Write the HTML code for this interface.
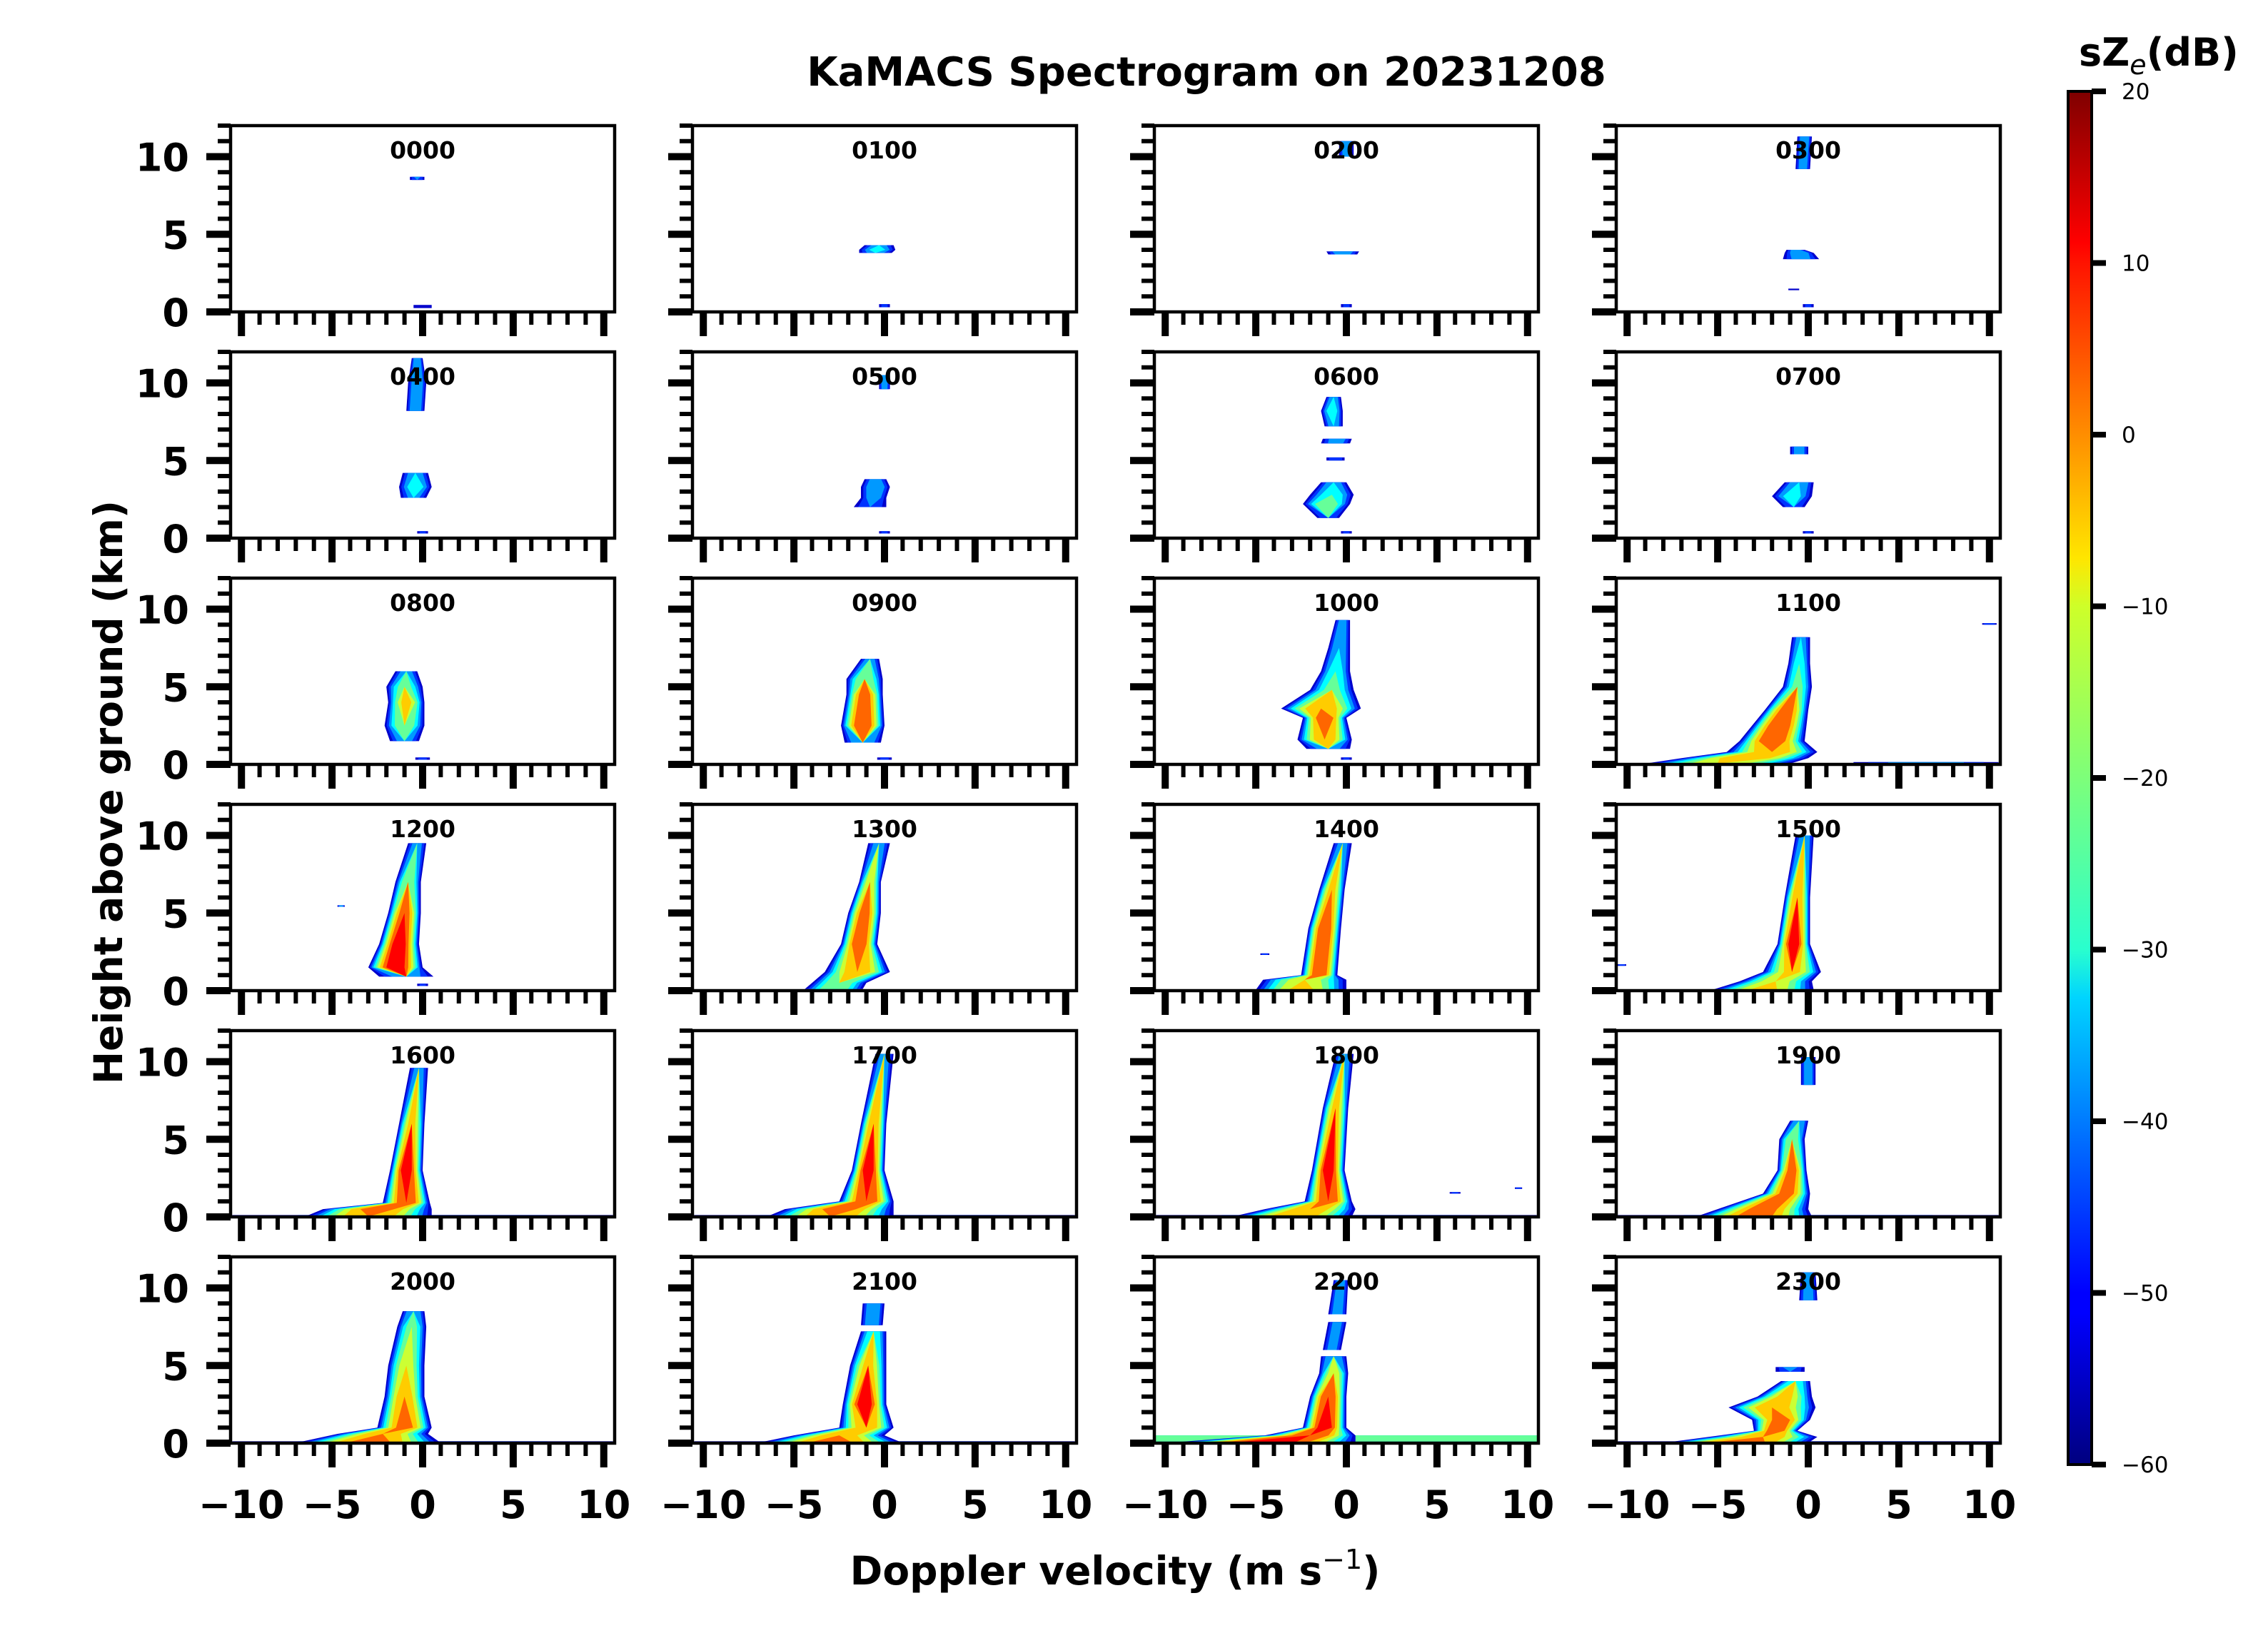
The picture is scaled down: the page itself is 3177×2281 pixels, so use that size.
<!DOCTYPE html>
<html>
<head>
<meta charset="utf-8">
<style>
html,body{margin:0;padding:0;background:#fff;}
svg{display:block;}
text{font-family:"DejaVu Sans","Liberation Sans",sans-serif;}
</style>
</head>
<body>
<svg id="fig" xmlns="http://www.w3.org/2000/svg" width="3177" height="2281" viewBox="0 0 3177 2281">
  <rect x="0" y="0" width="3177" height="2281" fill="#fff"/>
  <text x="1690" y="120" font-size="56" font-weight="bold" text-anchor="middle">KaMACS Spectrogram on 20231208</text>
  <text x="0" y="0" font-size="55" font-weight="bold" text-anchor="middle" transform="translate(171,1110) rotate(-90)">Height above ground (km)</text>
  <text x="1562" y="2220" font-size="55" font-weight="bold" text-anchor="middle">Doppler velocity (m s<tspan dy="-22" font-size="38" font-weight="normal">−1</tspan><tspan dy="22">)</tspan></text>
  <text x="2912" y="92" font-size="54" font-weight="bold">sZ<tspan dy="12" font-size="38" font-weight="normal" font-style="italic">e</tspan><tspan dy="-12">(dB)</tspan></text>
  <defs>
    <linearGradient id="jetg" x1="0" y1="1" x2="0" y2="0">
      <stop offset="0" stop-color="#00007f"/>
      <stop offset="0.11" stop-color="#0000ff"/>
      <stop offset="0.125" stop-color="#0000ff"/>
      <stop offset="0.34" stop-color="#00d4ff"/>
      <stop offset="0.375" stop-color="#29ffce"/>
      <stop offset="0.5" stop-color="#7dff7a"/>
      <stop offset="0.625" stop-color="#ceff29"/>
      <stop offset="0.66" stop-color="#ffe600"/>
      <stop offset="0.875" stop-color="#ff1300"/>
      <stop offset="0.89" stop-color="#ff0000"/>
      <stop offset="1" stop-color="#7f0000"/>
    </linearGradient>
  </defs>
  <g id="panels"></g>
  <g id="cbar"></g>
</svg>
<script>
// ---- data ----
const panelTitles = ["0000","0100","0200","0300","0400","0500","0600","0700","0800","0900","1000","1100","1200","1300","1400","1500","1600","1700","1800","1900","2000","2100","2200","2300"];
const xTicks = [-10,-5,0,5,10];
const yTicks = [0,5,10];
const cbarTicks = [20,10,0,-10,-20,-30,-40,-50,-60];
// each blob: list of nodes [height km, centre velocity m/s, half-width m/s, peak dB]
const blobs0000 = [[[8.5,-0.3,0.4,-45],[8.7,-0.3,0.4,-42]],[[0.25,0,0.5,-52],[0.45,0,0.5,-52]]];
const blobs0100 = [[[3.8,-0.5,0.9,-40],[4.0,-0.4,1.0,-32],[4.3,-0.3,0.8,-40]],[[0.3,0,0.3,-50],[0.5,0,0.3,-50]]];
const blobs0200 = [[[3.7,-0.2,0.8,-40],[3.9,-0.2,0.9,-35]],[[10.0,0,0.4,-40],[11.0,0,0.4,-35]],[[0.3,0,0.3,-50],[0.5,0,0.3,-50]]];
const blobs0300 = [[[9.2,-0.3,0.4,-38],[11.3,-0.2,0.4,-35]],[[3.4,-0.4,1.0,-40],[3.8,-0.5,0.8,-35],[4.0,-0.7,0.5,-40]],[[1.4,-0.8,0.3,-55],[1.5,-0.8,0.3,-55]],[[0.3,0,0.3,-50],[0.5,0,0.3,-50]]];
const blobs0400 = [[[8.2,-0.4,0.5,-35],[10.0,-0.3,0.5,-35],[11.6,-0.3,0.3,-35]],[[2.6,-0.5,0.7,-42],[3.3,-0.4,0.9,-30],[4.2,-0.4,0.7,-38]],[[0.3,0,0.3,-50],[0.45,0,0.3,-50]]];
const blobs0500 = [[[9.6,0,0.3,-40],[10.5,0,0.3,-35]],[[2.0,-0.8,0.9,-45],[2.6,-0.6,0.7,-38],[3.3,-0.5,0.8,-35],[3.8,-0.5,0.6,-40]],[[0.3,0,0.3,-50],[0.45,0,0.3,-50]]];
const blobs0600 = [[[7.2,-0.7,0.5,-38],[8.2,-0.8,0.6,-30],[9.1,-0.7,0.4,-38]],[[6.1,-0.6,0.8,-40],[6.4,-0.5,0.8,-38]],[[5.0,-0.6,0.5,-45],[5.2,-0.6,0.5,-45]],[[1.3,-1.0,0.6,-45],[2.2,-1.1,1.3,-20],[2.8,-0.8,1.2,-30],[3.6,-0.7,0.7,-38]],[[0.3,0,0.3,-50],[0.45,0,0.3,-50]]];
const blobs0700 = [[[5.4,-0.5,0.5,-38],[5.9,-0.5,0.5,-38]],[[2.0,-0.8,0.6,-45],[2.7,-0.9,1.1,-32],[3.6,-0.5,0.8,-35]],[[0.3,0,0.3,-50],[0.45,0,0.3,-50]]];
const blobs0800 = [[[1.5,-1.0,0.8,-40],[2.5,-1.0,1.1,-20],[4.0,-0.9,1.0,-10],[5.0,-1.0,1.0,-25],[6.0,-0.9,0.6,-40]],[[0.3,0,0.4,-50],[0.45,0,0.4,-50]]];
const blobs0900 = [[[1.4,-1.2,1.0,-35],[2.5,-1.2,1.2,5],[4.5,-1.1,1.0,0],[5.5,-1.1,1.0,-20],[6.8,-0.8,0.5,-40]],[[0.3,0,0.4,-50],[0.45,0,0.4,-50]]];
const blobs1000 = [[[1.0,-1.0,1.2,-40],[1.6,-1.2,1.5,-5],[3.0,-1.2,1.2,5],[3.6,-1.4,2.2,-5],[4.8,-0.8,1.2,-25],[6.0,-0.6,0.8,-30],[7.5,-0.4,0.6,-35],[9.3,-0.2,0.4,-40]],[[0.3,0,0.3,-50],[0.45,0,0.3,-50]]];
const blobs1100 = [[[0.05,-5,4,-15],[0.4,-3.5,3.5,-5],[0.8,-2,2.5,-5],[1.5,-2,1.8,5],[2.5,-1.6,1.5,5],[3.5,-1.2,1.2,0],[5.0,-0.6,0.8,-25],[6.5,-0.5,0.6,-30],[8.2,-0.4,0.5,-40]],[[0.0,6.5,4,-40],[0.15,6.5,4,-40]],[[9.0,10,0.4,-45],[9.1,10,0.4,-45]]];
const blobs1200 = [[[0.9,-0.9,1.5,-40],[1.5,-1.5,1.5,10],[3.0,-1.3,1.1,10],[5.0,-1.0,0.9,0],[7.0,-0.8,0.7,-20],[9.5,-0.3,0.5,-40]],[[5.4,-4.5,0.2,-40],[5.5,-4.5,0.2,-40]],[[0.3,0,0.3,-50],[0.45,0,0.3,-50]]];
const blobs1300 = [[[0.1,-2.8,1.6,-20],[0.5,-2.5,1.5,-20],[1.2,-1.5,1.8,-5],[3.0,-1.4,1.0,5],[5.0,-1.1,0.9,0],[7.0,-0.8,0.6,-15],[9.5,-0.3,0.6,-40]]];
const blobs1400 = [[[0.05,-2.5,2.5,-10],[0.7,-2.3,2.3,-15],[1.0,-1.5,1.0,5],[4.0,-1.2,0.9,5],[6.5,-0.8,0.7,-10],[9.5,-0.2,0.5,-40]],[[2.3,-4.5,0.25,-48],[2.4,-4.5,0.25,-48]]];
const blobs1500 = [[[0.05,-2.5,2.8,-10],[0.6,-1.8,2.0,-15],[1.2,-0.9,1.6,-10],[3.0,-0.8,0.9,10],[6.0,-0.6,0.7,-5],[10.0,-0.2,0.5,-38]],[[1.6,-10.3,0.25,-45],[1.7,-10.3,0.25,-45]]];
const blobs1600 = [[[0.0,0,10.5,-48],[0.12,0,10.5,-48]],[[0.02,-3,3.5,-5],[0.5,-2.5,3,0],[0.9,-0.9,1.3,5],[3.0,-0.9,0.9,10],[6.0,-0.6,0.7,-10],[9.6,-0.2,0.5,-40]]];
const blobs1700 = [[[0.0,0,10.5,-48],[0.12,0,10.5,-48]],[[0.02,-3,3.5,-5],[0.5,-2.5,3,0],[1.0,-1,1.5,5],[3.0,-0.9,0.9,10],[6.0,-0.6,0.7,-5],[10.5,0,0.5,-40]]];
const blobs1800 = [[[0.0,0,10.5,-48],[0.12,0,10.5,-48]],[[0.02,-3,3.3,-5],[0.5,-2.0,2.5,-5],[1.0,-1,1.3,5],[3.0,-1,0.9,10],[7.0,-0.6,0.7,-10],[10.5,-0.1,0.5,-38]],[[1.5,6,0.3,-50],[1.6,6,0.3,-50]],[[1.8,9.5,0.2,-45],[1.9,9.5,0.2,-45]]];
const blobs1900 = [[[0.0,0,10.5,-48],[0.12,0,10.5,-48]],[[0.02,-3,3.2,0],[0.5,-2.5,2.5,0],[1.5,-1.2,1.3,0],[3.0,-0.9,0.8,0],[5.0,-0.9,0.7,-20],[6.2,-0.5,0.5,-35]],[[8.5,0,0.4,-38],[10.3,0,0.4,-38]]];
const blobs2000 = [[[0.0,0,10.5,-48],[0.12,0,10.5,-48]],[[0.02,-3,4,0],[0.6,-2.2,2.5,-5],[1.0,-1,1.5,0],[3.0,-1,1.1,-5],[5.0,-0.9,1.0,-15],[7.5,-0.6,0.8,-25],[8.5,-0.5,0.6,-35]]];
const blobs2100 = [[[0.0,0,10.5,-48],[0.12,0,10.5,-48]],[[0.02,-3,4,0],[0.5,-2.5,2.5,-5],[1.0,-1,1.5,-5],[2.5,-1.1,1.2,10],[5.0,-0.9,1.0,-10],[7.2,-0.6,0.7,-30]],[[7.6,-0.7,0.6,-35],[9.0,-0.6,0.6,-35]]];
const blobs2200 = [[[0.1,0,30,-22],[0.5,0,30,-22]],[[0.05,-4.5,5,10],[0.5,-2,2.5,5],[1.0,-1.2,1.2,10],[3.0,-1.0,1.0,5],[4.5,-0.7,0.8,-15],[5.6,-0.7,0.7,-35]],[[6.0,-0.8,0.5,-40],[7.8,-0.5,0.5,-40]],[[8.3,-0.5,0.5,-38],[10.5,-0.3,0.4,-38]]];
const blobs2300 = [[[0.0,0,10.5,-48],[0.12,0,10.5,-48]],[[0.02,-4,4,5],[0.4,-2.5,3,-5],[0.8,-1.8,1.2,5],[1.5,-1.5,1.6,0],[2.3,-2,2.4,-5],[3.0,-1.3,1.5,-10],[4.0,-0.7,0.8,-30]],[[4.6,-1,0.8,-45],[4.9,-1,0.8,-40]],[[9.2,0,0.5,-38],[11.0,0,0.4,-38]]];
const panelBlobs = [blobs0000,blobs0100,blobs0200,blobs0300,blobs0400,blobs0500,blobs0600,blobs0700,blobs0800,blobs0900,blobs1000,blobs1100,blobs1200,blobs1300,blobs1400,blobs1500,blobs1600,blobs1700,blobs1800,blobs1900,blobs2000,blobs2100,blobs2200,blobs2300];

// ---- layout ----
const NS = "http://www.w3.org/2000/svg";
const colLeft = [323, 970, 1617, 2264];
const rowBottom = [437, 754, 1071, 1388, 1705, 2022];
const PW = 538, PH = 261;
const XMIN = -10.6, XMAX = 10.6, YMIN = 0, YMAX = 12;
const CB = {x:2897, w:33, top:128, bottom:2052, min:-60, max:20};

function jet(dB){
  let t = (dB - CB.min)/(CB.max - CB.min);
  t = Math.max(0, Math.min(1, t));
  const f = (v)=>Math.round(255*Math.max(0,Math.min(1,v)));
  const r = Math.min(4*t-1.5, -4*t+4.5);
  const g = Math.min(4*t-0.5, -4*t+3.5);
  const b = Math.min(4*t+0.5, -4*t+2.5);
  return "rgb("+f(r)+","+f(g)+","+f(b)+")";
}
function mk(tag, attrs, parent){
  const e = document.createElementNS(NS, tag);
  for (const k in attrs) e.setAttribute(k, attrs[k]);
  parent.appendChild(e);
  return e;
}

const panelsG = document.getElementById("panels");
panelTitles.forEach((title, i) => {
  const col = i % 4, row = Math.floor(i / 4);
  const L = colLeft[col], B = rowBottom[row], T = B - PH;
  const sx = v => L + (v - XMIN) / (XMAX - XMIN) * PW;
  const sy = h => B - (h - YMIN) / (YMAX - YMIN) * PH;
  const g = mk("g", {}, panelsG);
  
  
  const clipId = "clip" + i;
  const cp = mk("clipPath", {id: clipId}, g);
  mk("rect", {x: L, y: T, width: PW, height: PH}, cp);
  const dg = mk("g", {"clip-path": "url(#" + clipId + ")"}, g);
  
  
  const levels = [-58,-50,-42,-34,-26,-18,-10,-2,6,14];
  panelBlobs[i].forEach((blob) => {
    levels.forEach(lv => {
      const pts = [];
      let any = false;
      const frac = blob.map(n => {
        if (lv > n[3]) return 0;
        any = true;
        return Math.sqrt(Math.max(0, 1 - (lv + 58) / (n[3] + 62)));
      });
      if (!any) return;
      blob.forEach((n, k) => pts.push(sx(n[1] - n[2] * frac[k]).toFixed(1) + "," + sy(n[0]).toFixed(1)));
      for (let k = blob.length - 1; k >= 0; k--) pts.push(sx(blob[k][1] + blob[k][2] * frac[k]).toFixed(1) + "," + sy(blob[k][0]).toFixed(1));
      const p = mk("polygon", {points: pts.join(" "), fill: jet(lv + 4)}, dg);
      
      
    });
  });
  const fr = mk("rect", {x: L, y: T, width: PW, height: PH, fill: "none", stroke: "#000", "stroke-width": 4.5}, g);
  
  
  const tt = mk("text", {x: L + PW/2, y: T + 46, "font-size": 33, "font-weight": "bold", "text-anchor": "middle"}, g);
  tt.textContent = title;
  
  
  for (let h = 0; h <= 12; h++) {
    const major = yTicks.indexOf(h) >= 0;
    const len = major ? 34 : 18, w = major ? 10 : 6;
    const tk = mk("rect", {x: L - len, y: sy(h) - w/2, width: len, height: w, fill: "#000"}, g);
    
    
  }
  if (col === 0) {
    yTicks.forEach(h => {
      const lb = mk("text", {x: L - 58, y: sy(h) + 20, "font-size": 54, "font-weight": "bold", "text-anchor": "end"}, g);
      lb.textContent = String(h);
      
      
    });
  }
  for (let v = -10; v <= 10; v++) {
    const major = xTicks.indexOf(v) >= 0;
    const len = major ? 34 : 18, w = major ? 10 : 6;
    const tk = mk("rect", {x: sx(v) - w/2, y: B, width: w, height: len, fill: "#000"}, g);
    
    
  }
  if (row === 5) {
    xTicks.forEach(v => {
      const lb = mk("text", {x: sx(v), y: B + 105, "font-size": 54, "font-weight": "bold", "text-anchor": "middle"}, g);
      lb.textContent = v < 0 ? "\u2212" + Math.abs(v) : String(v);
      
      
    });
  }
});

const cbG = document.getElementById("cbar");


const cbr = mk("rect", {x: CB.x, y: CB.top, width: CB.w, height: CB.bottom - CB.top, fill: "url(#jetg)", stroke: "#000", "stroke-width": 4}, cbG);


const cy = d => CB.bottom - (d - CB.min) / (CB.max - CB.min) * (CB.bottom - CB.top);
cbarTicks.forEach(d => {
  const tk = mk("rect", {x: CB.x + CB.w, y: cy(d) - 4, width: 20, height: 8, fill: "#000"}, cbG);
  
  
  const lb = mk("text", {x: CB.x + CB.w + 42, y: cy(d) + 11, "font-size": 31}, cbG);
  lb.textContent = d < 0 ? "\u2212" + Math.abs(d) : String(d);
  
  
});
</script>
</body>
</html>
